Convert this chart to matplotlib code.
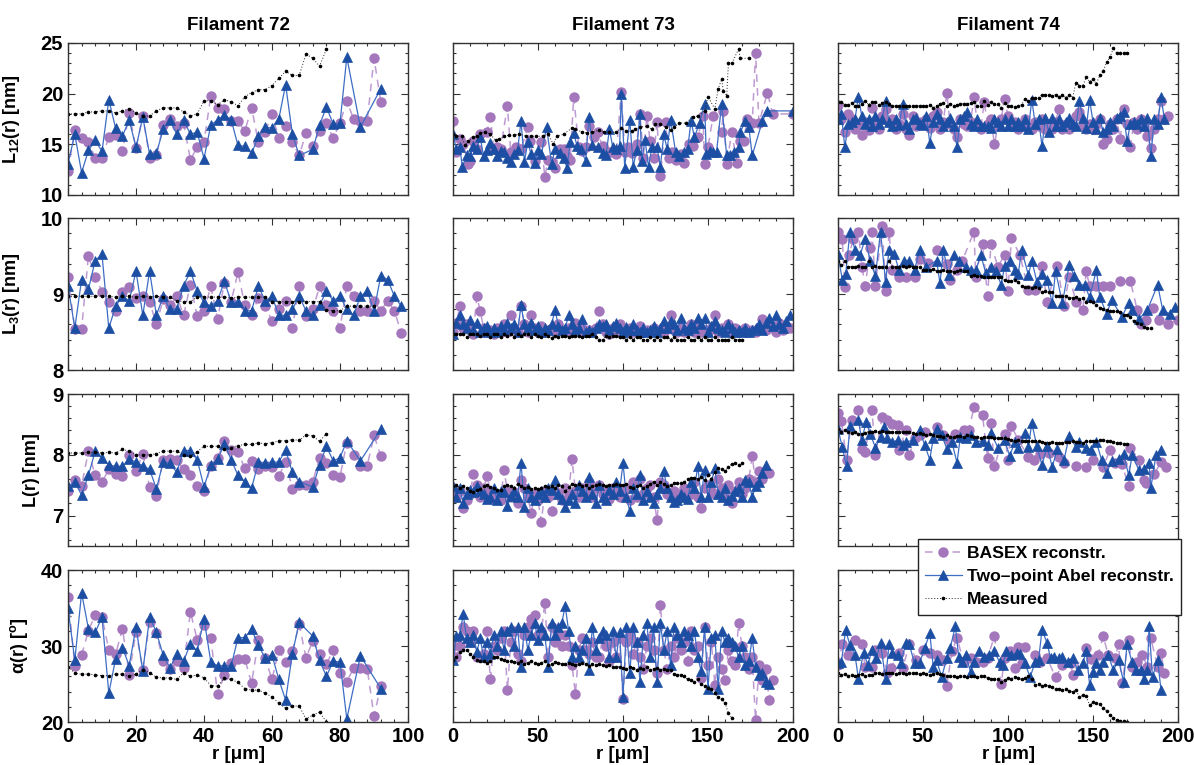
import numpy as np
import matplotlib.pyplot as plt
from matplotlib.ticker import MultipleLocator

plt.rcParams['font.family'] = ['Liberation Sans', 'DejaVu Sans']
plt.rcParams['font.weight'] = 'bold'
plt.rcParams['mathtext.fontset'] = 'custom'
plt.rcParams['mathtext.rm'] = 'Liberation Sans:bold'
plt.rcParams['mathtext.bf'] = 'Liberation Sans:bold'
plt.rcParams['mathtext.it'] = 'Liberation Sans:bold'
plt.rcParams['mathtext.default'] = 'bf'

titles = ['Filament 72', 'Filament 73', 'Filament 74']
ylabels = ['L$_{12}$(r) [nm]', 'L$_{3}$(r) [nm]', 'L(r) [nm]', 'α(r) [$^{o}$]']
legend_labels = ['BASEX reconstr.', 'Two–point Abel reconstr.', 'Measured']

# ---------------- Filament 72 (r step 2 um unless listed) ----------------
f72_tp_r = list(range(0, 70, 2)) + [72, 74, 76, 78, 80, 82, 86, 92]

f72_l12_basex = [12.4, 16.4, 15.6, 15.2, 13.7, 13.7, 15.7, 15.9, 14.3, 18.1, 14.6, 17.8, 13.7, 13.9, 16.9, 17.5,
                 16.8, 17.1, 13.5, 14.7, 15.2, 19.8, 18.6, 18.5, 17.3, 17.3, 16.3, 18.6, 15.2, 16.2, 18.0, 15.6,
                 16.8, 15.2, 13.9, 16.1, 14.8, 16.3, 17.1, 15.6, 17.1, 19.3, 17.5, 17.3, 17.3, 23.5, 19.2]
f72_l12_tp = [13.1, 16.0, 12.2, 14.4, 15.4, 14.3, 19.4, 16.6, 15.8, 17.4, 14.7, 17.7, 14.0, 14.1, 16.5, 17.4,
              16.0, 17.4, 16.0, 16.2, 13.6, 16.9, 17.4, 17.9, 17.4, 14.9, 14.8, 14.1, 15.8, 16.7, 16.6, 17.5,
              20.9, 16.0, 13.9, 14.5, 16.9, 18.7, 17.0, 17.1, 23.6, 16.7, 20.5]
f72_l12_meas = [18.0, 18.0, 18.0, 18.2, 18.2, 18.3, 18.3, 18.1, 18.3, 18.5, 18.1, 17.8, 17.8, 18.3, 18.6, 18.6,
                18.6, 18.2, 17.8, 18.0, 19.3, 19.3, 18.9, 19.4, 19.2, 18.8, 19.7, 20.1, 20.4, 20.4, 20.8, 21.5,
                22.2, 21.8, 21.8, 23.9, 23.5, 22.7, 24.4]

f72_l3_basex = [9.23, 8.54, 8.54, 9.50, 9.23, 9.03, 8.90, 8.77, 9.03, 9.09, 8.95, 8.97, 8.90, 8.60, 8.93, 8.85,
                8.97, 8.72, 9.12, 8.71, 8.78, 9.10, 8.67, 9.15, 8.90, 9.29, 8.85, 8.72, 8.95, 8.84, 8.65, 8.80,
                8.91, 8.55, 9.10, 8.71, 8.80, 9.10, 8.85, 8.78, 8.55, 9.10, 8.97, 8.78, 8.78, 8.91, 8.78, 8.91,
                8.78, 8.49]
f72_l3_tp = [9.11, 8.55, 9.19, 9.06, 9.44, 9.52, 8.55, 8.84, 8.97, 8.91, 9.30, 8.72, 9.30, 8.72, 8.97, 8.80,
             8.80, 9.11, 9.30, 9.04, 8.89, 8.84, 8.91, 9.17, 8.89, 8.89, 8.78, 8.78, 9.10, 8.91, 8.97, 8.72,
             8.72, 8.80, 8.97, 8.78, 8.72, 8.85, 9.04, 8.91, 8.97, 8.80, 8.72, 8.97, 9.04, 8.78, 9.24, 9.19,
             8.97, 8.84]
f72_l3_meas = [8.97, 8.97, 8.97, 8.97, 8.97, 8.98, 8.97, 8.96, 8.97, 8.97, 8.96, 8.97, 8.96, 8.97, 8.96, 8.96,
               8.91, 8.90, 8.90, 8.96, 8.96, 8.96, 8.96, 8.96, 8.95, 8.96, 8.96, 8.96, 8.96, 8.96, 8.90, 8.90,
               8.90, 8.90, 8.90, 8.90, 8.90, 8.90, 8.79, 8.78, 8.78, 8.84, 8.84, 8.84, 8.84, 8.84]

f72_l_basex = [7.41, 7.59, 7.49, 8.06, 7.66, 7.55, 7.76, 7.69, 7.65, 7.99, 7.73, 8.01, 7.47, 7.33, 7.92, 7.93,
               7.92, 7.76, 7.67, 7.49, 7.40, 7.82, 7.95, 8.23, 8.08, 8.04, 7.78, 7.90, 7.76, 7.81, 7.80, 7.65,
               7.88, 7.44, 7.51, 7.51, 7.56, 7.95, 7.86, 7.66, 7.64, 8.20, 7.99, 7.82, 7.82, 8.32, 7.98]
f72_l_tp = [7.49, 7.55, 7.34, 7.66, 8.06, 7.95, 7.83, 7.81, 7.81, 7.93, 7.88, 7.82, 7.76, 7.44, 7.88, 7.86,
            7.71, 8.07, 8.07, 7.92, 7.47, 7.83, 7.93, 8.17, 7.92, 7.66, 7.56, 7.45, 7.88, 7.87, 7.88, 7.88,
            8.08, 7.71, 7.56, 7.47, 7.84, 8.14, 7.90, 7.95, 8.23, 7.90, 8.42]
f72_l_meas = [8.03, 8.03, 8.03, 8.04, 8.04, 8.03, 8.04, 8.03, 8.09, 8.06, 8.00, 8.00, 8.00, 8.02, 8.06, 8.06,
              8.06, 8.00, 7.98, 8.05, 8.14, 8.14, 8.14, 8.10, 8.12, 8.15, 8.17, 8.17, 8.20, 8.18, 8.20, 8.23,
              8.23, 8.25, 8.24, 8.33, 8.31, 8.22, 8.35]

f72_a_basex = [36.5, 27.4, 28.8, 32.0, 34.1, 33.8, 29.5, 28.9, 32.3, 26.2, 31.9, 26.9, 33.1, 31.7, 28.0, 27.0,
               28.0, 27.1, 34.5, 30.8, 32.8, 31.0, 23.7, 26.2, 27.8, 28.3, 28.3, 25.1, 30.8, 28.4, 25.6, 29.5,
               27.9, 29.3, 32.9, 28.4, 30.7, 29.0, 27.6, 29.5, 26.5, 25.3, 27.1, 27.1, 27.0, 20.8, 24.7]
f72_a_tp = [35.0, 28.1, 37.0, 32.3, 31.8, 33.8, 23.8, 28.3, 29.8, 27.4, 32.5, 26.7, 33.8, 31.8, 28.8, 27.1,
            28.9, 28.0, 30.3, 29.3, 33.6, 27.9, 27.4, 27.4, 27.4, 31.1, 31.1, 32.2, 30.1, 28.4, 28.8, 25.6,
            22.9, 29.0, 33.1, 31.3, 28.1, 26.0, 28.0, 27.9, 20.4, 28.7, 24.4]
f72_a_meas = [27.3, 26.4, 26.3, 26.3, 26.2, 26.1, 26.1, 26.3, 26.3, 26.0, 26.3, 26.9, 26.5, 25.9, 25.8, 25.8,
              25.6, 26.5, 26.0, 26.2, 25.8, 24.8, 24.7, 25.8, 25.6, 25.2, 24.4, 24.2, 24.2, 23.8, 23.3, 22.5,
              21.8, 22.1, 22.1, 20.4, 20.9, 21.3, 20.0]

# ---------------- Filament 73 ----------------
f73_l12_basex_r = [0, 2, 4, 6, 9, 10, 12, 14, 16, 20, 22, 24, 26, 28, 32, 34, 37, 40, 44, 45, 48, 52, 54, 56,
                   58, 60, 63, 65, 67, 69, 71, 74, 76, 78, 80, 83, 85, 88, 90, 93, 96, 99, 101, 103, 105, 108,
                   110, 112, 114, 116, 118, 120, 122, 125, 127, 129, 131, 134, 136, 139, 141, 144, 147, 148,
                   150, 153, 158, 159, 161, 164, 167, 169, 171, 173, 176, 178, 180, 185, 188, 200]
f73_l12_basex = [17.3, 14.2, 15.5, 15.0, 13.1, 13.4, 15.3, 14.5, 16.0, 16.2, 17.7, 14.5, 14.7, 14.5, 18.8, 14.2,
                 14.7, 14.5, 16.7, 15.3, 13.4, 15.2, 11.8, 13.5, 13.3, 12.7, 14.5, 14.5, 13.8, 13.5, 19.7, 14.7,
                 14.3, 14.7, 16.8, 15.7, 16.2, 14.8, 14.3, 14.2, 14.0, 20.2, 14.2, 14.7, 14.1, 15.0, 18.0, 13.7,
                 17.8, 15.3, 13.7, 17.2, 11.9, 17.2, 13.7, 14.2, 13.5, 14.0, 13.2, 15.0, 14.8, 15.7, 17.8, 13.1,
                 14.7, 17.8, 16.2, 18.3, 13.1, 16.2, 13.2, 15.3, 15.3, 17.5, 17.1, 24.0, 17.1, 20.1, 18.0, 18.0]
f73_l12_tp_r = [0, 2, 4, 5.5, 8, 10, 12, 14, 16, 18, 20, 22, 24, 26, 28, 30, 32, 34, 36, 38, 40, 42, 44, 46,
                48, 50, 52, 55, 58, 60, 63, 65, 67, 69, 71, 73, 75, 78, 80, 82, 85, 88, 90, 92, 94, 96, 98, 99,
                101, 104, 106, 108, 110, 111, 113, 115, 117, 120, 122, 124, 126, 128, 131, 133, 136, 138, 140,
                142, 145, 148, 149, 151, 153, 155, 158, 161, 163, 165, 168, 169, 172, 174, 176, 182, 185, 200]
f73_l12_tp = [16.0, 14.5, 14.7, 12.8, 13.9, 13.8, 14.8, 14.5, 15.7, 13.8, 14.4, 15.1, 14.5, 13.8, 14.3, 14.2,
              13.7, 13.3, 14.0, 14.4, 17.3, 13.3, 15.2, 14.0, 13.2, 14.4, 14.0, 16.7, 13.1, 14.5, 14.1, 13.7,
              12.7, 15.2, 16.1, 14.8, 14.5, 13.4, 17.7, 14.9, 14.7, 14.1, 13.9, 16.5, 14.7, 14.5, 14.8, 20.0,
              12.7, 17.4, 12.8, 14.4, 18.0, 13.4, 15.4, 12.8, 14.7, 14.7, 12.8, 16.0, 14.5, 17.4, 14.2, 13.8,
              14.2, 14.5, 17.3, 15.7, 17.1, 19.0, 14.0, 14.3, 14.2, 14.2, 19.0, 13.9, 13.9, 14.2, 14.7, 16.2,
              17.3, 16.7, 13.9, 17.3, 18.3, 18.3]
f73_l12_meas_r = [0, 2, 5, 7, 9, 12, 14, 16, 19, 22, 25, 27, 30, 33, 36, 39, 43, 46, 49, 53, 56, 59, 61, 65,
                  70, 72, 76, 79, 82, 86, 89, 92, 96, 99, 102, 105, 107, 110, 114, 117, 119, 122, 125, 128,
                  130, 133, 137, 141, 144, 148, 150, 154, 156, 158, 159, 161, 162, 164, 168, 169, 174]
f73_l12_meas = [16.0, 15.8, 15.8, 14.9, 15.3, 15.7, 15.8, 16.1, 16.2, 16.0, 15.4, 15.5, 15.8, 15.9, 15.9, 16.0,
                15.8, 15.8, 15.8, 15.8, 16.0, 15.0, 15.8, 16.0, 16.6, 16.5, 16.2, 16.1, 16.2, 16.4, 16.2, 16.2,
                16.2, 16.6, 16.3, 16.3, 16.5, 16.7, 16.8, 16.5, 17.0, 17.0, 16.7, 16.4, 16.7, 17.1, 17.1, 17.7,
                17.8, 18.3, 19.7, 18.5, 20.5, 21.4, 20.3, 19.8, 23.0, 23.0, 24.4, 23.5, 23.5]

f73_l3_basex = [8.50, 8.62, 8.84, 8.55, 8.60, 8.52, 8.48, 8.97, 8.78, 8.55, 8.50, 8.52, 8.48, 8.55, 8.50, 8.60,
                8.50, 8.72, 8.55, 8.50, 8.84, 8.60, 8.50, 8.72, 8.55, 8.50, 8.58, 8.50, 8.52, 8.55, 8.50, 8.60,
                8.52, 8.50, 8.55, 8.50, 8.62, 8.50, 8.55, 8.50, 8.52, 8.50, 8.55, 8.78, 8.60, 8.50, 8.48, 8.55,
                8.50, 8.60, 8.52, 8.50, 8.55, 8.50, 8.52, 8.58, 8.50, 8.52, 8.50, 8.55, 8.50, 8.52, 8.50, 8.55,
                8.72, 8.52, 8.50, 8.55, 8.50, 8.52, 8.60, 8.50, 8.55, 8.50, 8.52, 8.50, 8.55, 8.72, 8.50, 8.55,
                8.52, 8.60, 8.50, 8.55, 8.50, 8.52, 8.55, 8.50, 8.52, 8.50, 8.55, 8.67, 8.52, 8.60, 8.55, 8.50,
                8.62, 8.52, 8.58, 8.55]
f73_l3_tp = [8.48, 8.62, 8.72, 8.60, 8.55, 8.66, 8.52, 8.62, 8.50, 8.55, 8.58, 8.50, 8.55, 8.50, 8.58, 8.52,
             8.62, 8.55, 8.60, 8.50, 8.85, 8.60, 8.55, 8.62, 8.52, 8.58, 8.50, 8.55, 8.52, 8.60, 8.79, 8.58,
             8.52, 8.55, 8.72, 8.60, 8.52, 8.55, 8.67, 8.50, 8.52, 8.50, 8.55, 8.60, 8.58, 8.60, 8.52, 8.58,
             8.62, 8.55, 8.50, 8.56, 8.52, 8.60, 8.52, 8.50, 8.55, 8.50, 8.52, 8.58, 8.50, 8.55, 8.64, 8.55,
             8.64, 8.60, 8.52, 8.69, 8.55, 8.52, 8.60, 8.55, 8.69, 8.60, 8.69, 8.50, 8.58, 8.65, 8.55, 8.52,
             8.50, 8.60, 8.55, 8.50, 8.52, 8.50, 8.55, 8.50, 8.52, 8.55, 8.60, 8.52, 8.62, 8.69, 8.58, 8.73,
             8.60, 8.55, 8.65, 8.73]
f73_l3_meas = [8.48, 8.48, 8.48, 8.48, 8.44, 8.48, 8.48, 8.48, 8.45, 8.48, 8.48, 8.44, 8.48, 8.48, 8.44, 8.48,
               8.45, 8.48, 8.44, 8.48, 8.45, 8.48, 8.48, 8.44, 8.48, 8.45, 8.44, 8.48, 8.45, 8.42, 8.45, 8.44,
               8.45, 8.45, 8.44, 8.45, 8.45, 8.45, 8.44, 8.45, 8.45, 8.48, 8.44, 8.40, 8.40, 8.45, 8.44, 8.45,
               8.45, 8.44, 8.44, 8.40, 8.44, 8.40, 8.44, 8.44, 8.40, 8.40, 8.44, 8.40, 8.44, 8.40, 8.44, 8.44,
               8.40, 8.44, 8.40, 8.40, 8.40, 8.44, 8.40, 8.40, 8.44, 8.40, 8.44, 8.40, 8.40, 8.44, 8.40, 8.40,
               8.40, 8.40, 8.44, 8.40, 8.40, 8.40]

f73_l_basex = [7.45, 7.30, 7.40, 7.12, 7.25, 7.35, 7.69, 7.50, 7.30, 7.45, 7.65, 7.40, 7.28, 7.35, 7.25, 7.75,
               7.40, 7.30, 7.38, 7.20, 7.58, 7.45, 7.30, 7.04, 7.35, 7.25, 6.90, 7.40, 7.30, 7.07, 7.40, 7.35,
               7.25, 7.45, 7.35, 7.93, 7.40, 7.30, 7.45, 7.38, 7.55, 7.30, 7.45, 7.50, 7.35, 7.40, 7.28, 7.45,
               7.40, 7.30, 7.35, 7.45, 7.25, 7.55, 7.30, 7.60, 7.35, 7.45, 7.50, 7.30, 6.93, 7.55, 7.50, 7.35,
               7.30, 7.40, 7.25, 7.35, 7.45, 7.40, 7.35, 7.55, 7.30, 7.12, 7.45, 7.50, 7.40, 7.35, 7.60, 7.45,
               7.30, 7.50, 7.21, 7.40, 7.55, 7.35, 7.45, 7.60, 7.98, 7.55, 7.73, 7.60, 7.73, 7.70]
f73_l_tp = [7.49, 7.30, 7.45, 7.20, 7.35, 7.42, 7.38, 7.48, 7.40, 7.35, 7.28, 7.30, 7.45, 7.25, 7.40, 7.38,
            7.15, 7.32, 7.40, 7.30, 7.87, 7.14, 7.45, 7.30, 7.25, 7.35, 7.40, 7.30, 7.45, 7.42, 7.59, 7.35,
            7.28, 7.14, 7.25, 7.35, 7.20, 7.50, 7.40, 7.30, 7.64, 7.35, 7.20, 7.50, 7.30, 7.25, 7.42, 7.35,
            7.55, 7.40, 7.86, 7.30, 7.07, 7.45, 7.35, 7.67, 7.25, 7.40, 7.30, 7.20, 7.35, 7.45, 7.73, 7.45,
            7.30, 7.22, 7.25, 7.35, 7.30, 7.28, 7.55, 7.45, 7.81, 7.30, 7.75, 7.30, 7.55, 7.78, 7.35, 7.30,
            7.45, 7.25, 7.32, 7.40, 7.45, 7.30, 7.58, 7.55, 7.30, 7.48, 7.55, 7.70, 7.84]
f73_l_meas = [7.48, 7.50, 7.46, 7.48, 7.45, 7.40, 7.38, 7.42, 7.44, 7.48, 7.50, 7.47, 7.45, 7.42, 7.42, 7.48,
              7.50, 7.48, 7.46, 7.52, 7.48, 7.45, 7.47, 7.44, 7.45, 7.43, 7.46, 7.48, 7.47, 7.48, 7.45, 7.50,
              7.48, 7.40, 7.47, 7.52, 7.50, 7.52, 7.48, 7.50, 7.46, 7.48, 7.50, 7.52, 7.50, 7.49, 7.51, 7.50,
              7.52, 7.50, 7.50, 7.52, 7.47, 7.45, 7.48, 7.50, 7.46, 7.48, 7.52, 7.55, 7.50, 7.55, 7.52, 7.48,
              7.50, 7.53, 7.53, 7.53, 7.55, 7.60, 7.62, 7.62, 7.60, 7.63, 7.58, 7.66, 7.60, 7.72, 7.78, 7.76,
              7.74, 7.80, 7.85, 7.86, 7.84, 7.86]

f73_a_basex = [30.0, 28.5, 30.0, 32.5, 32.0, 30.5, 32.0, 28.5, 28.5, 29.0, 32.0, 25.6, 30.0, 29.5, 31.0, 32.0,
               24.2, 30.5, 32.0, 29.0, 28.0, 31.5, 32.5, 33.5, 34.1, 31.5, 32.0, 35.7, 28.5, 32.5, 30.5, 31.5,
               30.0, 31.5, 30.0, 27.5, 23.7, 29.5, 31.0, 29.5, 29.0, 30.5, 28.5, 28.5, 31.0, 30.0, 28.0, 30.5,
               28.5, 31.0, 23.0, 30.5, 31.5, 29.0, 30.5, 28.5, 27.0, 30.0, 31.0, 29.5, 26.5, 35.4, 29.5, 27.0,
               30.0, 28.5, 31.0, 29.5, 30.5, 28.0, 32.0, 29.5, 30.0, 25.8, 32.5, 27.5, 30.5, 24.9, 28.5, 27.0,
               25.5, 29.5, 28.0, 27.5, 33.0, 30.0, 28.5, 27.0, 28.5, 20.2, 27.5, 25.5, 27.0, 22.9, 25.5]
f73_a_tp = [28.1, 31.3, 31.5, 34.2, 31.0, 30.5, 31.5, 29.2, 31.0, 28.5, 30.5, 29.0, 31.5, 30.0, 32.0, 29.5,
            32.0, 32.5, 30.0, 32.5, 27.2, 32.5, 29.5, 31.5, 33.0, 30.8, 32.5, 31.5, 27.3, 33.0, 31.5, 32.5,
            33.0, 35.3, 32.0, 28.5, 30.0, 28.5, 29.5, 31.0, 26.9, 32.5, 29.5, 31.0, 32.0, 31.5, 28.5, 32.0,
            28.5, 31.8, 23.3, 32.5, 26.4, 32.5, 30.5, 25.3, 31.5, 33.0, 28.5, 32.5, 25.3, 33.0, 29.5, 32.0,
            27.5, 32.5, 31.5, 30.5, 32.0, 31.5, 30.0, 32.0, 28.5, 26.7, 32.5, 24.4, 31.0, 31.5, 24.4, 32.0,
            30.5, 31.0, 30.5, 30.0, 28.5, 30.0, 27.5, 28.0, 31.0, 27.3, 26.2, 26.5, 25.3, 25.0]
f73_a_meas = [28.2, 28.6, 29.2, 29.5, 29.5, 29.0, 28.5, 28.2, 28.0, 28.0, 27.8, 28.0, 28.5, 28.6, 28.3, 28.2,
              28.0, 28.0, 27.9, 27.8, 28.0, 27.6, 27.8, 28.0, 27.8, 27.6, 27.8, 28.0, 27.5, 27.6, 27.9, 27.8,
              27.6, 27.6, 27.8, 27.6, 27.5, 27.6, 27.8, 27.6, 27.4, 27.6, 27.5, 27.6, 27.5, 27.4, 27.5, 27.3,
              27.2, 27.3, 27.1, 27.0, 27.2, 27.1, 26.9, 27.1, 27.0, 27.2, 26.8, 27.0, 27.1, 26.9, 27.0, 26.8,
              26.9, 26.3, 26.2, 26.2, 26.0, 25.6, 25.5, 25.3, 25.6, 25.0, 24.7, 24.5, 24.3, 23.8, 23.3, 23.0,
              22.5, 21.2, 20.5]

# ---------------- Filament 74 ----------------
f74_l12_basex = [18.9, 17.5, 16.2, 18.0, 17.5, 16.5, 17.0, 15.9, 17.2, 16.4, 18.6, 17.0, 16.5, 17.8, 18.5, 17.2,
                 17.5, 16.5, 17.0, 18.0, 16.5, 15.9, 17.8, 16.8, 17.2, 17.0, 17.5, 16.6, 17.8, 18.2, 16.5, 17.2,
                 20.1, 17.0, 16.5, 15.7, 17.5, 17.0, 16.8, 17.2, 19.7, 17.0, 16.5, 19.2, 17.0, 17.5, 15.0, 16.8,
                 17.5, 19.5, 17.8, 16.8, 17.2, 16.5, 17.0, 17.5, 16.8, 16.5, 17.2, 16.8, 17.5, 16.5, 17.0, 16.5,
                 17.2, 18.5, 16.5, 17.0, 16.5, 16.8, 17.8, 18.2, 16.8, 16.5, 17.0, 16.5, 17.0, 17.5, 15.0, 15.5,
                 17.0, 16.5, 17.5, 15.5, 18.5, 17.0, 14.7, 17.2, 16.5, 17.5, 16.8, 15.8, 14.6, 16.5, 17.5, 19.3,
                 17.5, 17.8]
f74_l12_tp = [17.5, 18.0, 14.7, 17.0, 17.2, 17.5, 19.7, 17.8, 17.0, 17.5, 16.8, 17.8, 17.0, 17.5, 19.3, 17.2,
              16.8, 17.5, 16.9, 19.0, 17.0, 16.5, 17.5, 17.6, 17.0, 16.9, 17.8, 15.1, 17.2, 18.0, 17.5, 16.8,
              17.2, 17.6, 16.8, 14.7, 17.5, 17.8, 18.2, 17.0, 16.8, 17.5, 16.8, 16.8, 16.8, 16.6, 17.5, 17.2,
              16.8, 17.5, 16.8, 17.5, 16.8, 17.2, 16.8, 17.5, 16.5, 19.4, 17.0, 17.5, 14.8, 17.6, 16.2, 17.6,
              16.8, 17.5, 16.8, 17.2, 17.6, 17.0, 16.8, 19.3, 17.6, 16.6, 19.4, 17.2, 16.5, 17.6, 16.2, 16.5,
              17.2, 16.8, 17.6, 17.8, 18.2, 15.3, 17.0, 17.2, 17.0, 17.5, 16.8, 17.6, 13.8, 17.5, 17.0, 19.7,
              17.5]
f74_l12_meas = [19.2, 19.2, 18.9, 18.9, 19.1, 18.8, 18.8, 19.0, 19.3, 18.9, 19.2, 19.2, 18.9, 19.1, 19.2, 19.0,
                18.8, 18.8, 18.8, 18.8, 18.8, 18.8, 18.8, 18.8, 18.8, 18.8, 18.8, 18.9, 18.6, 18.8, 19.0, 19.1,
                18.8, 19.0, 18.8, 18.9, 19.0, 19.0, 19.0, 19.1, 19.2, 18.8, 18.8, 19.3, 18.9, 19.2, 19.0, 19.0,
                18.6, 19.1, 18.8, 18.8, 18.7, 18.8, 18.9, 19.5, 19.3, 19.6, 19.6, 19.6, 19.9, 19.9, 19.9, 19.8,
                19.9, 19.7, 19.9, 19.6, 19.9, 19.6, 21.1, 20.8, 20.8, 21.6, 21.2, 21.4, 21.0, 21.8, 22.2, 23.1,
                23.6, 24.5, 24.0, 24.0, 24.0, 24.0]

f74_l3_basex_r = [0, 2.5, 4, 6.5, 9, 12, 14, 16, 19, 20, 22, 26, 28, 30, 32, 36, 40, 45, 48, 53, 58, 64, 66, 70,
                  73, 80, 81, 85, 88, 90, 94, 98, 100, 102, 107, 112, 116, 120, 123, 129, 133, 136, 140, 144,
                  146, 148, 152, 156, 160, 166, 172, 176, 178, 181, 185, 189, 194, 200]
f74_l3_basex = [9.82, 9.73, 9.09, 9.51, 9.73, 9.82, 9.36, 9.11, 9.60, 9.82, 9.11, 9.90, 9.04, 9.82, 9.31, 9.23,
                9.23, 9.23, 9.46, 9.41, 9.58, 9.40, 9.18, 9.31, 9.43, 9.82, 9.23, 9.66, 8.98, 9.66, 9.36, 9.51,
                9.04, 9.74, 9.51, 9.05, 9.05, 9.37, 8.90, 9.37, 8.84, 9.23, 8.90, 8.79, 9.30, 9.11, 9.11, 9.11,
                9.11, 9.17, 9.17, 8.79, 8.61, 8.66, 8.82, 8.66, 8.61, 8.66]
f74_l3_tp_r = [0, 2.5, 4.5, 7, 10, 13, 16, 19, 22, 25, 28, 30, 33, 36, 39, 42, 45, 48, 52, 58, 60, 62, 65, 68,
               71, 75, 78, 81, 84, 87, 90, 93, 96, 98, 101, 104, 106, 108, 112, 114, 117, 120, 123, 126, 128,
               132, 136, 139, 142, 145, 148, 152, 154, 158, 161, 167, 171, 173, 177, 182, 188, 191, 195, 198]
f74_l3_tp = [9.52, 9.19, 9.26, 9.82, 9.58, 9.51, 9.73, 9.43, 9.24, 9.82, 9.16, 9.58, 9.53, 9.31, 9.44, 9.44,
             9.31, 9.58, 9.36, 9.44, 9.14, 9.58, 9.25, 9.51, 9.44, 9.36, 9.31, 9.31, 9.51, 9.27, 9.36, 9.30,
             9.12, 9.37, 9.44, 9.31, 9.26, 9.58, 9.25, 9.44, 9.16, 9.26, 9.18, 8.88, 9.30, 8.88, 9.38, 9.24,
             9.12, 9.12, 8.96, 9.31, 8.96, 8.74, 8.92, 8.70, 8.88, 8.79, 8.67, 8.79, 9.12, 8.79, 8.74, 8.83]
f74_l3_meas = [9.44, 9.38, 9.44, 9.36, 9.36, 9.36, 9.37, 9.36, 9.36, 9.44, 9.36, 9.37, 9.36, 9.36, 9.36, 9.44,
               9.36, 9.35, 9.36, 9.37, 9.36, 9.37, 9.36, 9.36, 9.35, 9.31, 9.32, 9.31, 9.33, 9.30, 9.30, 9.31,
               9.30, 9.30, 9.29, 9.30, 9.31, 9.30, 9.30, 9.24, 9.25, 9.24, 9.24, 9.23, 9.23, 9.22, 9.23, 9.23,
               9.22, 9.18, 9.17, 9.17, 9.18, 9.16, 9.10, 9.09, 9.09, 9.08, 9.09, 9.08, 9.03, 9.04, 9.02, 9.03,
               8.98, 8.98, 8.97, 8.98, 8.95, 8.95, 8.96, 8.94, 8.95, 8.90, 8.91, 8.90, 8.85, 8.82, 8.80, 8.79,
               8.78, 8.77, 8.77, 8.76, 8.72, 8.72, 8.70, 8.64, 8.62, 8.60, 8.57, 8.55, 8.55]

f74_l_basex_r = [0, 2, 5, 8, 12, 14, 16, 20, 22, 26, 29, 32, 35, 36, 40, 42, 45, 48, 51, 58, 62, 65, 69, 74, 77,
                 80, 85, 88, 90, 92, 98, 100, 102, 106, 112, 115, 119, 124, 130, 133, 140, 146, 150, 156, 160,
                 163, 167, 171, 172, 177, 180, 181, 186, 190, 193]
f74_l_basex = [8.69, 8.56, 7.92, 8.57, 8.73, 8.10, 8.05, 8.73, 7.99, 8.62, 8.57, 8.51, 8.49, 8.08, 8.41, 7.99,
               8.27, 8.32, 8.38, 8.46, 8.32, 8.24, 8.35, 8.41, 8.41, 8.78, 8.65, 7.94, 8.53, 7.81, 8.35, 7.91,
               8.47, 8.25, 7.96, 7.92, 8.02, 8.03, 7.96, 7.87, 7.81, 7.80, 7.91, 7.80, 8.08, 7.86, 7.85, 7.48,
               8.12, 7.91, 7.58, 7.53, 7.68, 7.88, 7.80]
f74_l_tp_r = [0, 2.5, 5, 7, 12, 14, 16.5, 19, 22, 25, 27, 29, 32, 35, 38, 40, 44, 48, 51, 54, 56, 58, 61, 64, 67,
              70, 72, 75, 78, 81, 85, 88, 90, 94, 98, 101, 104, 106, 110, 112, 114, 117, 120, 123, 126, 129,
              133, 136, 140, 142, 146, 149, 152, 155, 158, 161, 165, 168, 171, 173, 177, 180, 183, 184, 187, 190]
f74_l_tp = [8.42, 8.13, 7.81, 8.47, 8.57, 8.24, 8.54, 8.34, 8.12, 8.30, 8.45, 8.27, 8.21, 8.24, 8.16, 8.21,
            8.24, 8.41, 8.16, 7.92, 8.27, 8.42, 8.32, 8.10, 8.21, 7.87, 8.30, 8.27, 8.32, 8.21, 8.23, 8.16,
            8.36, 8.12, 8.24, 7.98, 8.21, 8.12, 8.36, 8.13, 8.52, 8.14, 7.83, 8.14, 7.80, 8.09, 7.92, 8.31,
            8.13, 8.21, 8.12, 8.08, 8.21, 7.92, 7.70, 7.90, 7.93, 8.02, 7.66, 7.99, 7.75, 7.76, 7.86, 7.45,
            7.99, 8.08]
f74_l_meas = [8.43, 8.38, 8.40, 8.38, 8.36, 8.38, 8.35, 8.34, 8.36, 8.38, 8.37, 8.39, 8.38, 8.39, 8.38, 8.37,
              8.38, 8.38, 8.37, 8.38, 8.37, 8.38, 8.36, 8.35, 8.36, 8.34, 8.33, 8.34, 8.32, 8.31, 8.31, 8.30,
              8.32, 8.30, 8.29, 8.31, 8.31, 8.30, 8.32, 8.31, 8.30, 8.30, 8.28, 8.29, 8.30, 8.29, 8.28, 8.27,
              8.28, 8.27, 8.26, 8.24, 8.23, 8.24, 8.23, 8.23, 8.22, 8.23, 8.23, 8.22, 8.21, 8.20, 8.20, 8.21,
              8.20, 8.19, 8.20, 8.21, 8.21, 8.22, 8.21, 8.21, 8.20, 8.22, 8.23, 8.23, 8.22, 8.24, 8.24, 8.23,
              8.22, 8.21, 8.20, 8.19, 8.18, 8.18]

f74_a_basex_r = [0, 2.5, 6, 10, 14, 16, 20, 22, 26, 29, 31, 36, 38, 42, 46, 50, 54, 58, 62, 64, 67, 70, 74, 78,
                 81, 85, 88, 92, 96, 98, 101, 104, 106, 108, 110, 116, 119, 123, 128, 132, 137, 138, 146, 149,
                 153, 156, 159, 163, 165, 167, 171, 173, 176, 179, 182, 184, 188, 190, 192]
f74_a_basex = [27.5, 30.2, 28.8, 30.8, 30.2, 27.3, 27.3, 29.5, 29.1, 26.4, 27.1, 29.1, 27.1, 30.2, 28.2, 29.5,
               29.1, 28.8, 28.2, 24.7, 29.3, 31.0, 27.9, 28.4, 27.9, 27.9, 28.4, 31.3, 25.0, 28.4, 29.3, 27.1,
               29.9, 27.7, 29.9, 28.8, 27.9, 28.4, 25.9, 27.5, 27.7, 26.2, 29.7, 28.3, 28.8, 31.3, 28.8, 28.4,
               30.2, 25.1, 30.8, 27.3, 27.9, 28.8, 27.3, 31.0, 27.3, 29.1, 26.4]
f74_a_tp_r = [0, 2, 4.5, 7, 10, 12, 15, 17.6, 20, 22.5, 25, 28, 30, 32, 35, 37, 40, 42, 45, 48, 51, 54, 56, 58,
              61, 64, 66, 69, 71, 73, 75, 78, 80, 83, 86, 89, 92, 95, 97, 99, 102, 105, 107, 110, 113, 116,
              118, 120, 123, 125, 127, 130, 132, 135, 138, 141, 144, 146, 148, 150, 152, 154, 156, 159, 162,
              165, 168, 170, 173, 175, 178, 180, 182, 183, 185, 188, 190]
f74_a_tp = [27.7, 27.9, 32.1, 30.1, 28.8, 25.7, 29.1, 27.5, 29.5, 28.4, 30.4, 25.6, 30.2, 29.1, 28.8, 27.8,
            30.4, 30.2, 27.7, 27.8, 29.7, 31.7, 27.3, 28.1, 25.9, 28.4, 29.7, 32.6, 28.6, 27.9, 28.8, 26.6,
            27.9, 29.3, 28.6, 28.8, 29.3, 27.9, 27.5, 29.3, 28.8, 29.1, 29.0, 27.7, 25.9, 27.9, 28.2, 32.1,
            30.4, 28.4, 28.6, 28.4, 28.6, 27.9, 28.4, 26.8, 27.7, 29.3, 24.9, 26.6, 27.7, 26.8, 27.9, 28.8,
            26.8, 28.2, 25.3, 30.2, 27.9, 26.8, 26.8, 25.7, 26.8, 32.6, 25.9, 28.2, 24.2]
f74_a_meas = [26.4, 26.2, 26.3, 26.1, 26.2, 26.0, 26.2, 26.3, 26.1, 26.2, 26.2, 26.4, 26.5, 26.3, 26.4, 26.5,
              26.4, 26.3, 26.4, 26.5, 26.3, 26.4, 26.4, 26.5, 26.3, 26.4, 26.3, 26.2, 26.3, 26.4, 26.3, 26.2,
              26.0, 26.1, 26.0, 25.9, 26.0, 26.1, 25.9, 26.0, 26.0, 25.9, 26.0, 26.0, 25.8, 25.7, 25.6, 25.7,
              25.2, 25.5, 25.8, 25.7, 25.9, 25.8, 25.6, 25.8, 26.0, 25.6, 24.9, 25.0, 24.8, 24.9, 24.7, 24.6,
              24.3, 24.4, 24.2, 24.3, 24.1, 24.0, 24.2, 23.3, 23.5, 23.4, 22.2, 22.6, 22.5, 22.4, 21.8, 21.5,
              20.9, 20.5, 20.2, 20.1, 20.1, 20.0]


def steps(vals):
    # series sampled every 2 um starting at r = 0
    return np.arange(len(vals)) * 2


panels = [
    # row 0: L12
    [(steps(f72_l12_basex), f72_l12_basex, f72_tp_r, f72_l12_tp, steps(f72_l12_meas), f72_l12_meas),
     (f73_l12_basex_r, f73_l12_basex, f73_l12_tp_r, f73_l12_tp, f73_l12_meas_r, f73_l12_meas),
     (steps(f74_l12_basex), f74_l12_basex, steps(f74_l12_tp), f74_l12_tp, steps(f74_l12_meas), f74_l12_meas)],
    # row 1: L3
    [(steps(f72_l3_basex), f72_l3_basex, steps(f72_l3_tp), f72_l3_tp, steps(f72_l3_meas), f72_l3_meas),
     (steps(f73_l3_basex), f73_l3_basex, steps(f73_l3_tp), f73_l3_tp, steps(f73_l3_meas), f73_l3_meas),
     (f74_l3_basex_r, f74_l3_basex, f74_l3_tp_r, f74_l3_tp, steps(f74_l3_meas), f74_l3_meas)],
    # row 2: L
    [(steps(f72_l_basex), f72_l_basex, f72_tp_r, f72_l_tp, steps(f72_l_meas), f72_l_meas),
     (steps(f73_l_basex), f73_l_basex, steps(f73_l_tp), f73_l_tp, steps(f73_l_meas), f73_l_meas),
     (f74_l_basex_r, f74_l_basex, f74_l_tp_r, f74_l_tp, steps(f74_l_meas), f74_l_meas)],
    # row 3: alpha
    [(steps(f72_a_basex), f72_a_basex, f72_tp_r, f72_a_tp, steps(f72_a_meas), f72_a_meas),
     (steps(f73_a_basex), f73_a_basex, steps(f73_a_tp), f73_a_tp, steps(f73_a_meas), f73_a_meas),
     (f74_a_basex_r, f74_a_basex, f74_a_tp_r, f74_a_tp, steps(f74_a_meas), f74_a_meas)],
]

ylims = [(10, 25), (8, 10), (6.5, 9), (20, 40)]
ymajor = [5, 1, 1, 10]
yminor = [1, 0.2, 0.2, 2]
ylabel_x = [22, 22, 40, 30]  # label centre, px from left

basex_c = '#A477BC'
basex_line = '#BF9BD3'
tp_c = '#1C4EA3'
tp_line = '#3D6DC4'

W, H = 1194, 765
col_left = [68, 453, 838]
row_top = [43, 218, 394, 570]
aw, ah = 340, 152

fig = plt.figure(figsize=(W / 100, H / 100), dpi=100)

handles = None
for i in range(4):
    for j in range(3):
        ax = fig.add_axes([col_left[j] / W, 1 - (row_top[i] + ah) / H, aw / W, ah / H])
        bx, by, tx, ty, mx, my = panels[i][j]
        hb, = ax.plot(bx, by, ls=(0, (5, 4)), color=basex_line, lw=1.1, marker='o', ms=7.5,
                      mfc=basex_c, mec=basex_c, mew=0)
        ht, = ax.plot(tx, ty, '-', color=tp_line, lw=0.9, marker='^', ms=7.5, mfc=tp_c, mec=tp_c, mew=0.5)
        hm, = ax.plot(mx, my, ls=(0, (1, 2)), color='#222222', lw=0.7, marker='.', ms=3.2, mfc='k', mec='k')
        handles = [hb, ht, hm]

        ax.set_ylim(*ylims[i])
        ax.yaxis.set_major_locator(MultipleLocator(ymajor[i]))
        ax.yaxis.set_minor_locator(MultipleLocator(yminor[i]))
        if j == 0:
            ax.set_xlim(0, 100)
            ax.xaxis.set_major_locator(MultipleLocator(20))
            ax.xaxis.set_minor_locator(MultipleLocator(4))
        else:
            ax.set_xlim(0, 200)
            ax.xaxis.set_major_locator(MultipleLocator(50))
            ax.xaxis.set_minor_locator(MultipleLocator(10))

        ax.tick_params(which='both', direction='in', top=True, right=True, width=0.8, colors='#333333',
                       labelcolor='black', labelsize=14.5)
        ax.tick_params(which='major', length=5)
        ax.tick_params(which='minor', length=2.5)
        for s in ax.spines.values():
            s.set_color('#333333')
            s.set_linewidth(1.0)

        if j == 0:
            ax.set_ylabel(ylabels[i], fontsize=13, fontweight='bold')
            ax.yaxis.set_label_coords((ylabel_x[i] - col_left[0]) / aw, 0.5)
        else:
            ax.set_yticklabels([])
        if i == 3:
            ax.set_xlabel('r [μm]', fontsize=13.5, fontweight='bold', labelpad=0)
        else:
            ax.set_xticklabels([])
        if i == 0:
            ax.set_title(titles[j], fontsize=13.5, fontweight='bold', pad=9)

leg = fig.legend(handles, legend_labels, loc='upper left', bbox_to_anchor=(918 / W, 1 - 539 / H),
                 fontsize=12.6, frameon=True, fancybox=False, edgecolor='#222222', framealpha=1,
                 handlelength=2.1, handletextpad=0.3, labelspacing=0.45, borderpad=0.4, borderaxespad=0)
leg.get_frame().set_linewidth(1.0)
for t in leg.get_texts():
    t.set_fontweight('bold')

fig.savefig('out.png', dpi=100)
